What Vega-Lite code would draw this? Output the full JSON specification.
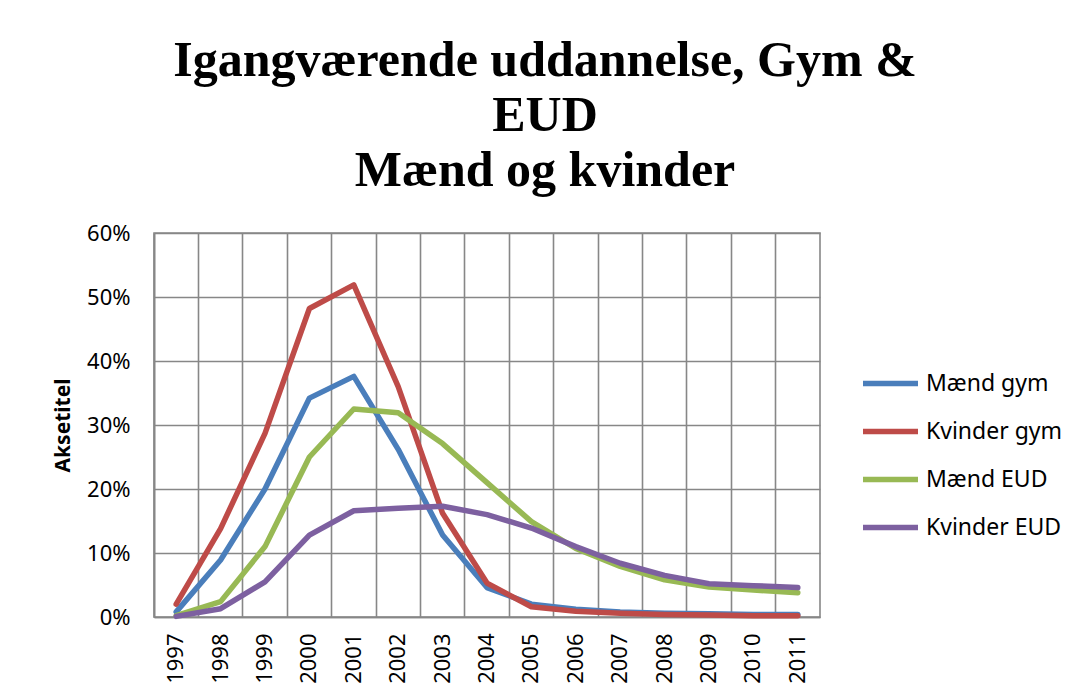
{
  "$schema": "https://vega.github.io/schema/vega-lite/v6.json",
  "autosize": {"type": "none"},
  "width": 666,
  "height": 384,
  "padding": {"left": 154, "top": 233, "right": 248, "bottom": 81},
  "background": "white",
  "title": {
    "text": ["Igangværende uddannelse, Gym &", "EUD", "Mænd og kvinder"],
    "font": "Liberation Serif",
    "fontWeight": "bold",
    "fontSize": 50,
    "lineHeight": 55,
    "color": "#000000",
    "anchor": "middle",
    "dx": 58,
    "offset": 26
  },
  "data": {
    "values": [
      {"year": "1997", "series": "Mænd gym", "v": 0.008},
      {"year": "1998", "series": "Mænd gym", "v": 0.089},
      {"year": "1999", "series": "Mænd gym", "v": 0.200},
      {"year": "2000", "series": "Mænd gym", "v": 0.342},
      {"year": "2001", "series": "Mænd gym", "v": 0.376},
      {"year": "2002", "series": "Mænd gym", "v": 0.262},
      {"year": "2003", "series": "Mænd gym", "v": 0.128},
      {"year": "2004", "series": "Mænd gym", "v": 0.046},
      {"year": "2005", "series": "Mænd gym", "v": 0.020},
      {"year": "2006", "series": "Mænd gym", "v": 0.012},
      {"year": "2007", "series": "Mænd gym", "v": 0.008},
      {"year": "2008", "series": "Mænd gym", "v": 0.006},
      {"year": "2009", "series": "Mænd gym", "v": 0.005},
      {"year": "2010", "series": "Mænd gym", "v": 0.004},
      {"year": "2011", "series": "Mænd gym", "v": 0.004},
      {"year": "1997", "series": "Kvinder gym", "v": 0.020},
      {"year": "1998", "series": "Kvinder gym", "v": 0.138},
      {"year": "1999", "series": "Kvinder gym", "v": 0.287},
      {"year": "2000", "series": "Kvinder gym", "v": 0.482},
      {"year": "2001", "series": "Kvinder gym", "v": 0.519},
      {"year": "2002", "series": "Kvinder gym", "v": 0.360},
      {"year": "2003", "series": "Kvinder gym", "v": 0.162},
      {"year": "2004", "series": "Kvinder gym", "v": 0.053},
      {"year": "2005", "series": "Kvinder gym", "v": 0.016},
      {"year": "2006", "series": "Kvinder gym", "v": 0.009},
      {"year": "2007", "series": "Kvinder gym", "v": 0.006},
      {"year": "2008", "series": "Kvinder gym", "v": 0.004},
      {"year": "2009", "series": "Kvinder gym", "v": 0.003},
      {"year": "2010", "series": "Kvinder gym", "v": 0.002},
      {"year": "2011", "series": "Kvinder gym", "v": 0.002},
      {"year": "1997", "series": "Mænd EUD", "v": 0.002},
      {"year": "1998", "series": "Mænd EUD", "v": 0.024},
      {"year": "1999", "series": "Mænd EUD", "v": 0.110},
      {"year": "2000", "series": "Mænd EUD", "v": 0.250},
      {"year": "2001", "series": "Mænd EUD", "v": 0.325},
      {"year": "2002", "series": "Mænd EUD", "v": 0.319},
      {"year": "2003", "series": "Mænd EUD", "v": 0.271},
      {"year": "2004", "series": "Mænd EUD", "v": 0.210},
      {"year": "2005", "series": "Mænd EUD", "v": 0.149},
      {"year": "2006", "series": "Mænd EUD", "v": 0.107},
      {"year": "2007", "series": "Mænd EUD", "v": 0.079},
      {"year": "2008", "series": "Mænd EUD", "v": 0.058},
      {"year": "2009", "series": "Mænd EUD", "v": 0.047},
      {"year": "2010", "series": "Mænd EUD", "v": 0.042},
      {"year": "2011", "series": "Mænd EUD", "v": 0.038},
      {"year": "1997", "series": "Kvinder EUD", "v": 0.001},
      {"year": "1998", "series": "Kvinder EUD", "v": 0.013},
      {"year": "1999", "series": "Kvinder EUD", "v": 0.055},
      {"year": "2000", "series": "Kvinder EUD", "v": 0.128},
      {"year": "2001", "series": "Kvinder EUD", "v": 0.166},
      {"year": "2002", "series": "Kvinder EUD", "v": 0.170},
      {"year": "2003", "series": "Kvinder EUD", "v": 0.173},
      {"year": "2004", "series": "Kvinder EUD", "v": 0.160},
      {"year": "2005", "series": "Kvinder EUD", "v": 0.139},
      {"year": "2006", "series": "Kvinder EUD", "v": 0.110},
      {"year": "2007", "series": "Kvinder EUD", "v": 0.084},
      {"year": "2008", "series": "Kvinder EUD", "v": 0.065},
      {"year": "2009", "series": "Kvinder EUD", "v": 0.052},
      {"year": "2010", "series": "Kvinder EUD", "v": 0.049},
      {"year": "2011", "series": "Kvinder EUD", "v": 0.046}
    ]
  },
  "encoding": {
    "x": {
      "field": "year", "type": "ordinal", "bandPosition": 0.5,
      "scale": {"type": "band", "paddingInner": 0, "paddingOuter": 0},
      "axis": {
        "title": null, "bandPosition": 0, "grid": true, "ticks": false,
        "labelAngle": -90, "labelFont": "Noto Sans", "labelFontSize": 22,
        "labelColor": "#000000", "labelPadding": 16,
        "gridColor": "#878787", "gridWidth": 1.6, "gridOpacity": 1,
        "domainColor": "#878787", "domainWidth": 1.6
      }
    },
    "y": {
      "field": "v", "type": "quantitative",
      "scale": {"domain": [0, 0.6], "nice": false},
      "axis": {
        "title": "Aksetitel", "titleFont": "Noto Sans", "titleFontSize": 21,
        "titleFontWeight": "bold", "titleColor": "#000000", "titlePadding": 13,
        "values": [0, 0.1, 0.2, 0.3, 0.4, 0.5, 0.6], "format": ".0%",
        "labelFont": "Noto Sans", "labelFontSize": 22, "labelColor": "#000000",
        "labelPadding": 24, "ticks": false,
        "grid": true, "gridColor": "#878787", "gridWidth": 1.6, "gridOpacity": 1,
        "domainColor": "#878787", "domainWidth": 1.6
      }
    },
    "color": {
      "field": "series", "type": "nominal",
      "scale": {
        "domain": ["Mænd gym", "Kvinder gym", "Mænd EUD", "Kvinder EUD"],
        "range": ["#4A7EBB", "#BE4B48", "#98B954", "#7D60A0"]
      },
      "legend": {
        "title": null, "orient": "none", "legendX": 706, "legendY": 120,
        "symbolType": "stroke", "symbolSize": 3025, "symbolStrokeWidth": 5.5,
        "labelFont": "Noto Sans", "labelFontSize": 23, "labelColor": "#000000",
        "labelOffset": 5, "rowPadding": 5
      }
    }
  },
  "layer": [
    {"transform": [{"filter": "datum.series === 'Mænd gym'"}], "mark": {"type": "line", "strokeWidth": 5.5, "strokeCap": "round", "strokeJoin": "round"}},
    {"transform": [{"filter": "datum.series === 'Kvinder gym'"}], "mark": {"type": "line", "strokeWidth": 5.5, "strokeCap": "round", "strokeJoin": "round"}},
    {"transform": [{"filter": "datum.series === 'Mænd EUD'"}], "mark": {"type": "line", "strokeWidth": 5.5, "strokeCap": "round", "strokeJoin": "round"}},
    {"transform": [{"filter": "datum.series === 'Kvinder EUD'"}], "mark": {"type": "line", "strokeWidth": 5.5, "strokeCap": "round", "strokeJoin": "round"}}
  ],
  "config": {
    "view": {"stroke": "#878787", "strokeWidth": 1.6}
  }
}
